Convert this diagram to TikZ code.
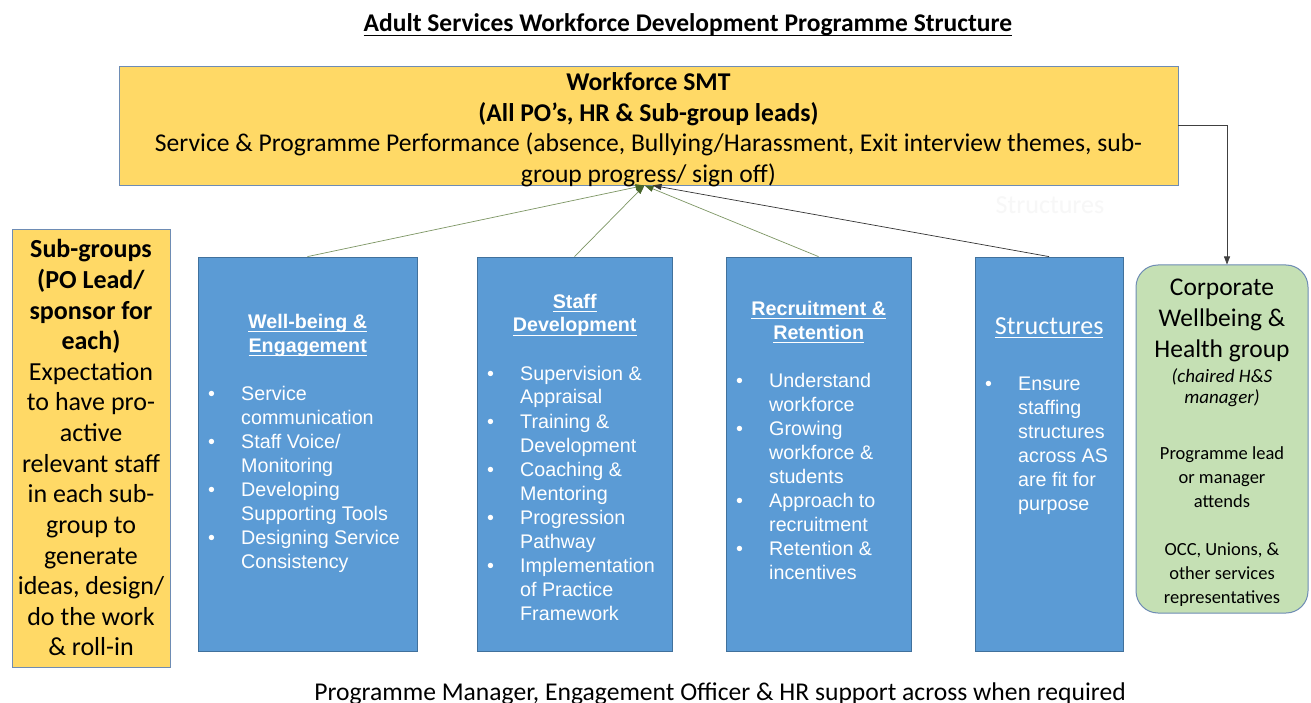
\documentclass[tikz,border=0pt]{standalone}
\usepackage{fontspec}
\setmainfont{Carlito}
\newfontfamily\arialfont{Liberation Sans}
\usetikzlibrary{arrows.meta}

\definecolor{smtyellow}{RGB}{255,217,102}
\definecolor{boxblue}{RGB}{91,155,213}
\definecolor{boxblueline}{RGB}{65,113,156}
\definecolor{grpgreen}{RGB}{197,224,180}
\definecolor{edgeblue}{RGB}{110,140,180}
\definecolor{linkgreen}{RGB}{125,150,100}
\definecolor{tipgreen}{RGB}{70,100,40}

\newcommand{\uln}[1]{\underline{\raisebox{0pt}[\height][2pt]{#1}}}
\newcommand{\blist}{\par\leftskip=33pt\relax}
\newcommand{\bitem}{\par\noindent\hspace*{-33pt}\makebox[33pt][l]{\textbullet}}
\newcommand{\btitle}[1]{{\centering\bfseries #1\par}\vspace{24pt}}

\begin{document}
\begin{tikzpicture}[x=1pt, y=-1pt,
  yellowbox/.style={draw=edgeblue, fill=smtyellow, line width=0.8pt, inner sep=0pt},
  panel/.style={draw=boxblueline, fill=boxblue, line width=0.8pt, inner sep=0pt},
  greenbox/.style={draw=edgeblue, fill=grpgreen, line width=1pt, rounded corners=22pt, inner sep=0pt},
  paneltext/.style={text=white, font=\arialfont\fontsize{19.7}{24}\selectfont, align=flush left, inner sep=0pt, anchor=base west},
  calibri/.style={font=\fontsize{26}{30.6}\selectfont, align=flush center, inner sep=0pt, anchor=base},
  uplink/.style={draw=linkgreen, line width=0.7pt, -{Triangle[length=9pt, width=6pt, color=tipgreen]}},
  sidelink/.style={draw=black!75, line width=0.6pt, -{Triangle[length=8pt, width=6pt]}}]
\useasboundingbox[fill=white] (0,0) rectangle (1311,703);

\node[font=\bfseries\fontsize{25.5}{30}\selectfont, inner sep=0pt, anchor=base] (title) at (688,32) {\uln{Adult Services Workforce Development Programme Structure}};

% top box
\node[yellowbox, minimum width=1059, minimum height=119] (smt) at (648.5,125.5) {};
\node[calibri, font=\fontsize{25.6}{30.6}\selectfont, text width=1040] (smttext) at (648.5,90.5) {\textbf{Workforce SMT}\\\textbf{(All PO’s, HR \& Sub-group leads)}\\Service \& Programme Performance (absence, Bullying/Harassment, Exit interview themes, sub-\\group progress/ sign off)};

% sub-groups
\node[yellowbox, minimum width=158, minimum height=438] (sub) at (91,448) {};
\node[calibri, text width=156] (subtext) at (91,258) {\textbf{Sub-groups}\\\textbf{(PO Lead/}\\\textbf{sponsor for}\\\textbf{each)}\\Expectation\\to have pro-\\active\\relevant staff\\in each sub-\\group to\\generate\\ideas, design/\\do the work\\\& roll-in};

% the four workstreams
\node[panel, minimum width=219, minimum height=394] (wb) at (307.5,454) {};
\node[panel, minimum width=195, minimum height=394] (sd) at (574.5,454) {};
\node[panel, minimum width=185, minimum height=394] (rr) at (818.5,454) {};
\node[panel, minimum width=148, minimum height=394] (st) at (1049,454) {};

\node[paneltext, text width=199] (wbtext) at (208,328) {\btitle{\uln{Well-being \&}\\\uln{Engagement}}\blist
  \bitem Service\\communication\bitem Staff Voice/\\Monitoring\bitem Developing\\Supporting Tools\bitem Designing Service\\Consistency\par};
\node[paneltext, text width=175] (sdtext) at (487,308) {\btitle{\uln{Staff}\\\uln{Development}}\blist
  \bitem Supervision \&\\Appraisal\bitem Training \&\\Development\bitem Coaching \&\\Mentoring\bitem Progression\\Pathway\bitem Implementation\\of Practice\\Framework\par};
\node[paneltext, text width=165] (rrtext) at (736,315) {\btitle{\uln{Recruitment \&}\\\uln{Retention}}\blist
  \bitem Understand\\workforce\bitem Growing\\workforce \&\\students\bitem Approach to\\recruitment\bitem Retention \&\\incentives\par};
\node[paneltext, text width=128] (sttext) at (985,334) {{\centering\normalfont\fontsize{26}{30}\selectfont\uln{Structures}\par}\vspace{32pt}\blist
  \bitem Ensure\\staffing\\structures\\across AS\\are fit for\\purpose\par};

\node[font=\fontsize{26}{30}\selectfont, text=black!3, inner sep=0pt] (ghost) at (1050,205) {Structures};

% corporate group
\node[greenbox, minimum width=172, minimum height=348] (grn) at (1222,439) {};
\node[calibri, font=\fontsize{25.5}{31}\selectfont, text width=170] (grntext) at (1222,295) {Corporate\\Wellbeing \&\\Health group\par
  \vspace{4pt}{\fontsize{19}{21}\selectfont\itshape (chaired H\&S\\manager)\par}
  \vspace{33pt}{\fontsize{18.5}{23.8}\selectfont Programme lead\\or manager\\attends\par
  \vspace{24.6pt}OCC, Unions, \&\\other services\\representatives\par}};

\node[calibri, font=\fontsize{25.6}{30.6}\selectfont] (support) at (720,700) {Programme Manager, Engagement Officer \& HR support across when required};

% links
\coordinate (tipg) at ([xshift=-4]smt.south);
\coordinate (tipb) at ([xshift=4]smt.south);
\draw[uplink] (wb.north) -- (tipg);
\draw[uplink] (sd.north) -- (tipg);
\draw[uplink] (rr.north) -- (tipg);
\draw[draw=black!80, line width=0.7pt, -{Triangle[length=9pt, width=6pt]}] (st.north) -- (tipb);
\draw[sidelink] (smt.east) -| ([xshift=5]grn.north);
\end{tikzpicture}
\end{document}
